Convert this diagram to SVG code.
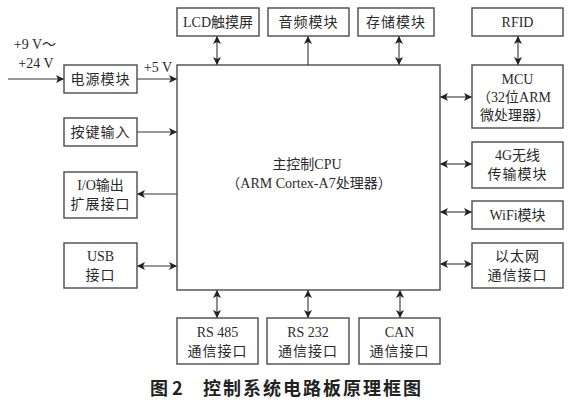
<svg xmlns="http://www.w3.org/2000/svg" width="588" height="410" viewBox="0 0 588 410">
<style>
.box{fill:#fff;stroke:#4a4a4a;stroke-width:1.4}
.t{font-family:"Liberation Serif","Noto Sans CJK SC",serif;font-size:14px;fill:#2a2a2a;text-anchor:middle}
.c{stroke:#333;stroke-width:1.1;fill:none}
.cap{font-family:"Noto Sans CJK SC",sans-serif;font-size:18px;font-weight:bold;fill:#222}
</style>
<defs>
<marker id="ah" viewBox="0 0 10 10" refX="10" refY="5" markerWidth="8" markerHeight="8" markerUnits="userSpaceOnUse" orient="auto-start-reverse">
<path d="M0,0 L10,5 L0,10 L2.5,5 z" fill="#222"/>
</marker>
</defs>
<rect width="588" height="410" fill="#fff"/>
<g id="connectors">
<line class="c" x1="8" y1="79" x2="64" y2="79" marker-end="url(#ah)"/>
<line class="c" x1="137" y1="79" x2="177" y2="79" marker-end="url(#ah)"/>
<line class="c" x1="137" y1="132" x2="177" y2="132" marker-end="url(#ah)"/>
<line class="c" x1="177" y1="194" x2="137" y2="194" marker-end="url(#ah)"/>
<line class="c" x1="137" y1="266" x2="177" y2="266" marker-start="url(#ah)" marker-end="url(#ah)"/>
<line class="c" x1="217" y1="36" x2="217" y2="65" marker-start="url(#ah)" marker-end="url(#ah)"/>
<line class="c" x1="308" y1="65" x2="308" y2="36" marker-end="url(#ah)"/>
<line class="c" x1="399" y1="36" x2="399" y2="65" marker-start="url(#ah)" marker-end="url(#ah)"/>
<line class="c" x1="518" y1="36" x2="518" y2="65" marker-start="url(#ah)" marker-end="url(#ah)"/>
<line class="c" x1="440" y1="97" x2="472" y2="97" marker-start="url(#ah)" marker-end="url(#ah)"/>
<line class="c" x1="440" y1="164" x2="472" y2="164" marker-start="url(#ah)" marker-end="url(#ah)"/>
<line class="c" x1="440" y1="212" x2="472" y2="212" marker-start="url(#ah)" marker-end="url(#ah)"/>
<line class="c" x1="440" y1="264" x2="472" y2="264" marker-start="url(#ah)" marker-end="url(#ah)"/>
<line class="c" x1="217" y1="290" x2="217" y2="318" marker-start="url(#ah)" marker-end="url(#ah)"/>
<line class="c" x1="308" y1="290" x2="308" y2="318" marker-start="url(#ah)" marker-end="url(#ah)"/>
<line class="c" x1="400" y1="290" x2="400" y2="318" marker-start="url(#ah)" marker-end="url(#ah)"/>
</g>
<g id="labels">
<text class="t" x="35" y="49">+9 V～</text>
<text class="t" x="36" y="68">+24 V</text>
<text class="t" x="158" y="72">+5 V</text>
</g>
<g id="cpu">
<rect class="box" x="177" y="65" width="263" height="225"/>
<text class="t" x="307" y="169">主控制CPU</text>
<text class="t" x="309" y="188">（ARM Cortex-A7处理器）</text>
</g>
<g id="lcd"><rect class="box" x="177" y="8" width="82" height="28"/><text class="t" x="218" y="27">LCD触摸屏</text></g>
<g id="audio"><rect class="box" x="268" y="8" width="81" height="28"/><text class="t" x="308.5" y="27" letter-spacing="1">音频模块</text></g>
<g id="storage"><rect class="box" x="358" y="8" width="76" height="28"/><text class="t" x="396" y="27" letter-spacing="1">存储模块</text></g>
<g id="rfid"><rect class="box" x="472" y="8" width="91" height="28"/><text class="t" x="517.5" y="27">RFID</text></g>
<g id="mcu"><rect class="box" x="472" y="65" width="91" height="63"/>
<text class="t" x="517.5" y="84">MCU</text>
<text class="t" x="514" y="102">（32位ARM</text>
<text class="t" x="515" y="120">微处理器）</text></g>
<g id="g4"><rect class="box" x="472" y="142" width="91" height="46"/>
<text class="t" x="517.5" y="160">4G无线</text>
<text class="t" x="517.5" y="179" letter-spacing="1">传输模块</text></g>
<g id="wifi"><rect class="box" x="472" y="201" width="91" height="28"/><text class="t" x="517.5" y="220">WiFi模块</text></g>
<g id="eth"><rect class="box" x="472" y="243" width="91" height="45"/>
<text class="t" x="517.5" y="261" letter-spacing="1">以太网</text>
<text class="t" x="517.5" y="280" letter-spacing="1">通信接口</text></g>
<g id="power"><rect class="box" x="64" y="65" width="73" height="28"/><text class="t" x="100.5" y="84" letter-spacing="1">电源模块</text></g>
<g id="key"><rect class="box" x="64" y="118" width="73" height="28"/><text class="t" x="100.5" y="137" letter-spacing="1">按键输入</text></g>
<g id="io"><rect class="box" x="64" y="172" width="73" height="46"/>
<text class="t" x="100.5" y="190">I/O输出</text>
<text class="t" x="100.5" y="209" letter-spacing="1">扩展接口</text></g>
<g id="usb"><rect class="box" x="64" y="243" width="73" height="45"/>
<text class="t" x="100.5" y="261">USB</text>
<text class="t" x="100.5" y="280" letter-spacing="1">接口</text></g>
<g id="rs485"><rect class="box" x="177" y="318" width="81" height="46"/>
<text class="t" x="217.5" y="337">RS 485</text>
<text class="t" x="217.5" y="356" letter-spacing="1">通信接口</text></g>
<g id="rs232"><rect class="box" x="267" y="318" width="82" height="46"/>
<text class="t" x="308" y="337">RS 232</text>
<text class="t" x="308" y="356" letter-spacing="1">通信接口</text></g>
<g id="can"><rect class="box" x="359" y="318" width="81" height="46"/>
<text class="t" x="399.5" y="337">CAN</text>
<text class="t" x="399.5" y="356" letter-spacing="1">通信接口</text></g>
<g id="caption">
<text class="cap" x="150" y="395">图 <tspan x="172">2</tspan></text>
<text class="cap" x="203" y="395" letter-spacing="2">控制系统电路板原理框图</text>
</g>
</svg>
